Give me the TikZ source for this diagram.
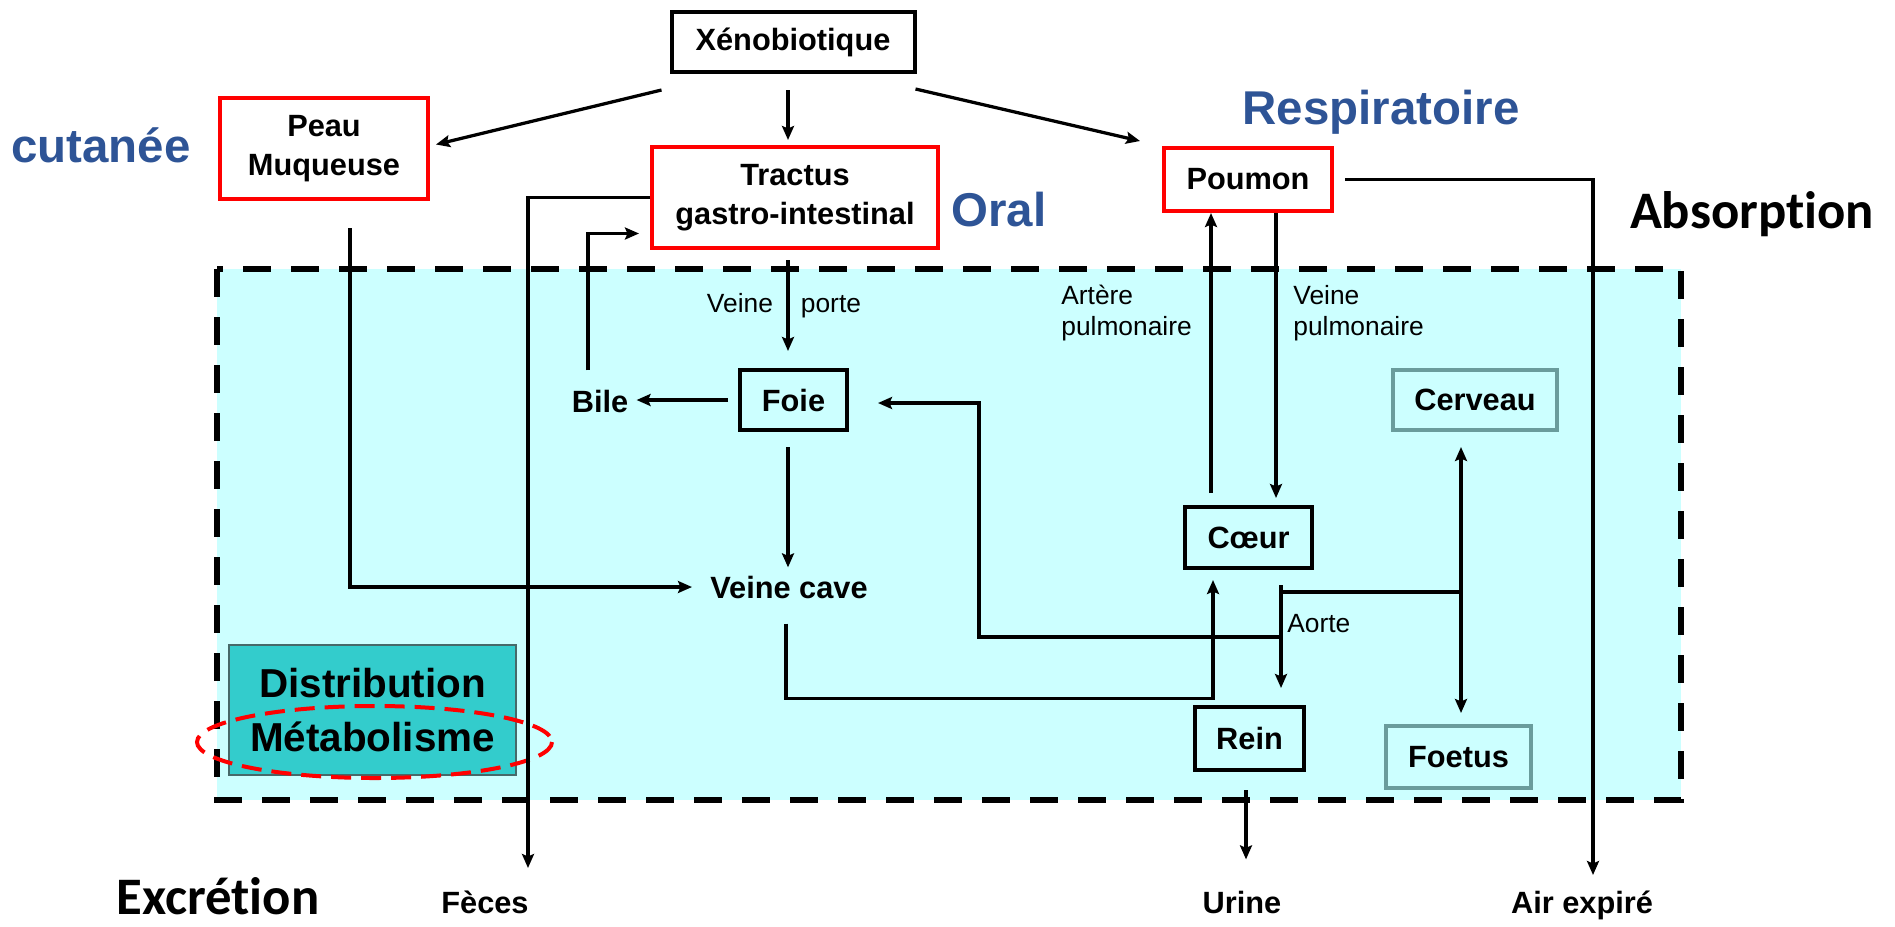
\documentclass[tikz,border=0pt]{standalone}
\usepackage{fontspec}
\setmainfont{Liberation Sans}
\newfontfamily\calib[Ligatures={NoCommon,NoContextual}]{Carlito}
\usetikzlibrary{arrows.meta}
\definecolor{zone}{RGB}{204,255,255}
\definecolor{bleu}{RGB}{46,84,150}
\definecolor{sarcelle}{RGB}{51,204,204}
\definecolor{grisvert}{RGB}{106,156,156}
\definecolor{bordsombre}{RGB}{70,105,105}
\newcommand{\txtboite}{\fontsize{17.5}{22}\selectfont\bfseries}
\newcommand{\txtpetit}{\fontsize{15}{17.6}\selectfont}

\begin{document}
\begin{tikzpicture}[x=0.2mm,y=-0.2mm,
    boite/.style={draw,line width=0.8mm,inner sep=0pt,align=center,font=\txtboite},
    rouge/.style={boite,draw=red,fill=white},
    noir/.style={boite,fill=white},
    organe/.style={boite,fill=zone},
    gris/.style={boite,draw=grisvert,fill=zone},
    mot/.style={inner sep=0pt,font=\txtboite},
    petit/.style={inner sep=0pt,align=left,font=\txtpetit},
    voie/.style={inner sep=0pt,text=bleu,font=\fontsize{27}{32}\selectfont\bfseries},
    etape/.style={inner sep=0pt,font=\calib\bfseries\fontsize{30}{36}\selectfont},
    flux/.style={-{Stealth[length=2.8mm,width=2.4mm,inset=0.5mm]},line width=0.65mm}]
    \useasboundingbox (0,0) rectangle (1895,926);
    % zone distribution
    \fill[zone] (217,269) rectangle (1681,800);
    \draw[line width=1.2mm,dash pattern=on 5.6mm off 4mm] (217,269) rectangle (1681,800);

    % organes
    \node[noir,minimum width=48.6mm,minimum height=12mm] (xeno) at (793,42) {Xénobiotique};
    \node[rouge,minimum width=41.6mm,minimum height=20.2mm] (peau) at (324,148.5) {Peau\\Muqueuse};
    \node[rouge,minimum width=57.2mm,minimum height=20.2mm] (tractus) at (795,197.5) {Tractus\\gastro-intestinal};
    \node[rouge,minimum width=33.6mm,minimum height=12.6mm] (poumon) at (1248,179.5) {Poumon};
    \node[organe,minimum width=21.4mm,minimum height=12mm] (foie) at (793.5,400) {Foie};
    \node[organe,minimum width=25.4mm,minimum height=12.2mm] (coeur) at (1248.5,537.5) {Cœur};
    \node[organe,minimum width=21.8mm,minimum height=12.6mm] (rein) at (1249.5,738.5) {Rein};
    \node[gris,minimum width=32.8mm,minimum height=12mm] (cerveau) at (1475,400) {Cerveau};
    \node[gris,minimum width=29mm,minimum height=12.4mm] (foetus) at (1458.5,757) {Foetus};

    \node[mot,anchor=base] (bile) at (600,412) {Bile};
    \node[mot,anchor=base] (cave) at (789,598) {Veine cave};
    \node[mot,anchor=base] (feces) at (485,913) {Fèces};
    \node[mot,anchor=base] (urine) at (1242,913) {Urine};
    \node[mot,anchor=base] (air) at (1582,913) {Air expiré};

    \node[petit,anchor=base] (vporte) at (784,312) {Veine\hspace{5.6mm}porte};
    \node[petit,anchor=north west] (artere) at (1061,285) {Artère\\pulmonaire};
    \node[petit,anchor=north west] (vpulm) at (1293,285) {Veine\\pulmonaire};
    \node[petit,anchor=base west] (aorte) at (1287,632) {Aorte};

    \node[voie,anchor=base] (cutanee) at (101,162) {cutanée};
    \node[voie,anchor=base] (oral) at (999,226) {Oral};
    \node[voie,anchor=base] (respi) at (1381,124) {Respiratoire};
    \node[etape,anchor=base] (absorption) at (1752,228) {Absorption};
    \node[etape,anchor=base] (excretion) at (218,914) {Excrétion};

    \node[draw=bordsombre,line width=0.4mm,fill=sarcelle,minimum width=57.4mm,minimum height=26mm,
          inner sep=0pt,align=center,font=\fontsize{23}{31}\selectfont\bfseries] (distmeta) at (372.5,710) {Distribution\\Métabolisme};
    \draw[red,line width=0.8mm,dash pattern=on 4mm off 2mm] (374.5,742) ellipse [x radius=177.5,y radius=36];

    % voies de passage
    \coordinate (col) at (788,0);
    \coordinate (artx) at (1211,0);
    \coordinate (vpx) at (1276,0);
    \coordinate (ccx) at (1213,0);
    \coordinate (aox) at (1281,0);
    \coordinate (brx) at (1461,0);
    \coordinate (fdx) at (979,0);
    \coordinate (urx) at (1246,0);
    \coordinate (aoB) at (1281,592);
    \coordinate (aoF) at (1281,637);
    \coordinate (fecx) at (528,868);
    \coordinate (airx) at (1593,875);

    % absorption
    \draw[flux] ([shift={(-8,16)}]xeno.south west) -- ([shift={(6,-4)}]peau.east);
    \draw[flux] ([shift={(0,16)}]xeno.south -| col) -- ([shift={(0,-5)}]tractus.north -| col);
    \draw[flux] ([shift={(-1,15)}]xeno.south east) -- ([shift={(-22,-5)}]poumon.north west);

    % voie digestive
    \draw[flux] ([shift={(0,10)}]tractus.south -| col) -- ([shift={(0,-17)}]foie.north -| col);
    \draw[flux] ([shift={(0,15)}]foie.south -| col) -- ([shift={(0,-8)}]cave.north -| col);
    \draw[flux] ([shift={(-10,0)}]foie.west) -- ([shift={(8,0)}]foie.west -| bile.east);
    \draw[flux] ([shift={(-12,-19)}]bile.north) |- ([shift={(-11,36)}]tractus.west);
    \draw[flux] ([shift={(26,27)}]peau.south) |- ([shift={(-18,0)}]cave.west);
    \draw[flux] (tractus.west) -| (fecx);

    % circulation
    \draw[flux] ([shift={(0,-12)}]coeur.north -| artx) -- (poumon.south -| artx);
    \draw[flux] (poumon.south -| vpx) -- ([shift={(0,-7)}]coeur.north -| vpx);
    \draw[flux] ([shift={(-3,25)}]cave.south) --++(0,75) -| ([shift={(0,10)}]coeur.south -| ccx);
    \draw[flux] ([shift={(11,0)}]poumon.east) -| (airx);
    \draw[flux] ([shift={(0,15)}]coeur.south -| aox) -- ([shift={(0,-17)}]rein.north -| aox);
    \draw[flux] (aoB) -| ([shift={(0,15)}]cerveau.south -| brx);
    \draw[flux] (aoB -| brx) -- ([shift={(0,-11)}]foetus.north -| brx);
    \draw[flux] (aoF) -| ([shift={(0,3)}]foie.east -| fdx) -- ([shift={(29,3)}]foie.east);
    \draw[flux] ([shift={(0,18)}]rein.south -| urx) -- ([shift={(0,-31)}]urine.north -| urx);
\end{tikzpicture}
\end{document}
